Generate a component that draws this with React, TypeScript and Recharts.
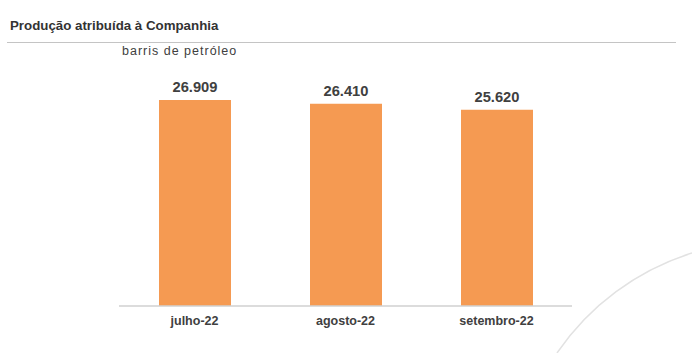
import React from 'react';
import { BarChart, Bar, XAxis, YAxis, LabelList } from 'recharts';

const months = ['julho-22', 'agosto-22', 'setembro-22'];
const barrels = [26909, 26410, 25620];

const data = months.map((m, i) => ({ name: m, value: barrels[i] }));

const fmt = (v: number) => v.toLocaleString('de-DE');

const App: React.FC = () => {
  return (
    <div style={{ position: 'absolute', left: 0, top: 0, width: 692, height: 353, background: '#fff', fontFamily: 'Liberation Sans, Arial, sans-serif' }}>
      {/* header */}
      <div style={{ position: 'absolute', left: 10, top: 18, fontSize: 13.3, fontWeight: 700, color: '#333', whiteSpace: 'nowrap' }}>
        Produção atribuída à Companhia
      </div>
      <div style={{ position: 'absolute', left: 7, top: 42, width: 669, height: 1, background: '#c4c4c4' }} />
      <div style={{ position: 'absolute', left: 122, top: 43.5, fontSize: 12.5, color: '#404040', letterSpacing: 1, whiteSpace: 'nowrap' }}>
        barris de petróleo
      </div>

      {/* decorative arc */}
      <svg width={692} height={353} style={{ position: 'absolute', left: 0, top: 0 }}>
        <path d="M 557 353 A 257 257 0 0 1 692 253" fill="none" stroke="#e2e2e2" strokeWidth={1.5} />
      </svg>

      <div style={{ position: 'absolute', left: 0, top: 0 }}>
        <BarChart width={692} height={353} data={data} margin={{ top: 61, right: 120, bottom: 17, left: 119 }}>
          <YAxis hide domain={[0, 32000]} />
          <XAxis
            dataKey="name"
            height={30}
            tickLine={false}
            tickSize={8}
            tickMargin={2}
            axisLine={{ stroke: '#d0d0d0', strokeWidth: 1.5 }}
            tick={{ fill: '#404040', fontSize: 12.5, fontWeight: 700 }}
          />
          <Bar dataKey="value" fill="#F59A52" barSize={72} isAnimationActive={false}>
            <LabelList dataKey="value" position="top" offset={8} formatter={(v: number) => fmt(v)} style={{ fill: '#404040', fontSize: 14.7, fontWeight: 700 }} />
          </Bar>
        </BarChart>
      </div>
    </div>
  );
};

export default App;
